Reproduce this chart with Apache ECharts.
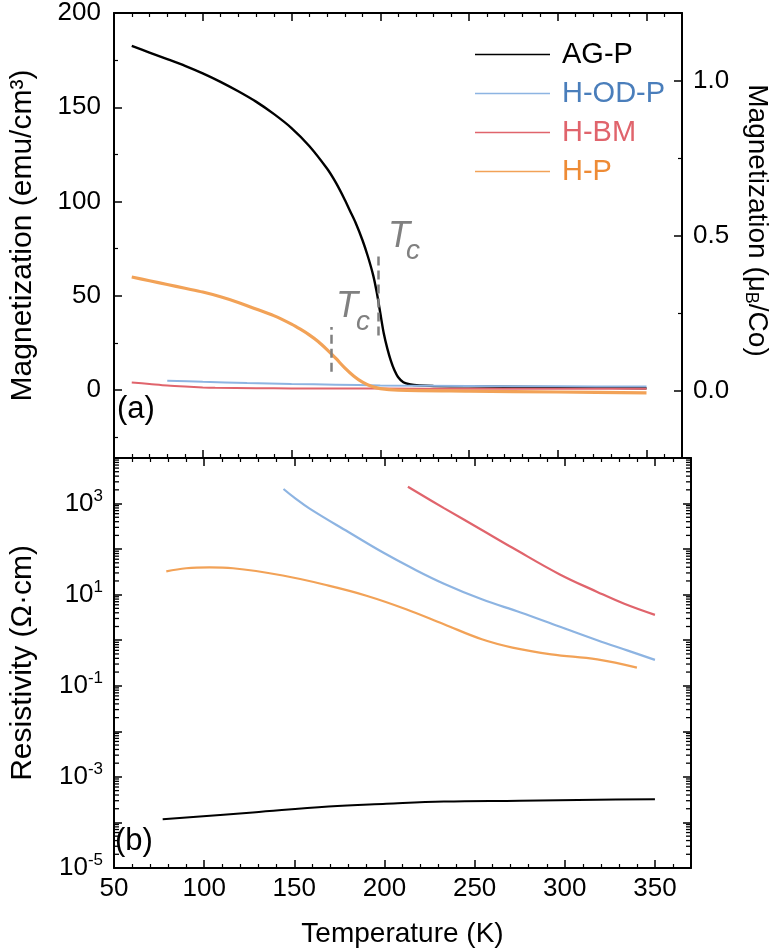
<!DOCTYPE html>
<html><head><meta charset="utf-8">
<script src="https://cdn.jsdelivr.net/npm/echarts@6/dist/echarts.min.js"></script>
<style>html,body{margin:0;padding:0;background:#fff}#c{width:779px;height:950px}</style>
</head><body><div id="c"></div>
<script>
const seriesNames = ['AG-P', 'H-OD-P', 'H-BM', 'H-P'];
const lineColors = ['#000000', '#8db4e2', '#e0646c', '#f2a257'];
const textColors = ['#000000', '#4a7ebb', '#e0646c', '#ee8b35'];

// Panel (a): magnetization (emu/cm3) vs temperature (K)
const magT_AGP = [60, 70, 80, 90, 100, 110, 120, 130, 140, 150, 160, 170, 175, 180, 183, 186, 190, 193, 196, 198, 200, 202, 204, 206, 208, 210, 213, 217, 222, 230, 250, 270, 300, 330, 350];
const mag_AGP  = [182.5, 179, 175.5, 172, 168, 163.5, 158.5, 153, 146.5, 139, 129.5, 117.5, 110, 101, 95, 89, 79.5, 71, 61, 52, 41, 30, 22, 15.5, 10.5, 7, 4.2, 3, 2.5, 2.2, 2, 1.8, 1.5, 1.2, 1];
const magT_HODP = [80, 100, 125, 150, 175, 200, 250, 300, 350];
const mag_HODP  = [5.0, 4.4, 3.8, 3.3, 2.9, 2.5, 2.2, 2.0, 1.9];
const magT_HBM = [60, 70, 80, 90, 100, 107, 130, 150, 200, 250, 300, 350];
const mag_HBM  = [4.1, 3.3, 2.5, 1.9, 1.4, 1.2, 1.0, 0.9, 0.8, 0.7, 0.7, 0.7];
const magT_HP = [60, 70, 80, 90, 100, 110, 120, 130, 140, 150, 155, 160, 165, 170, 175, 180, 185, 190, 195, 200, 210, 250, 300, 350];
const mag_HP  = [60, 58, 56, 54, 52, 49.5, 46.5, 43, 39.5, 35, 32.3, 29.3, 25.8, 21.5, 16.8, 11.8, 7.5, 4.2, 2, 0.8, 0, -0.5, -1, -1.5];

// Panel (b): resistivity (Ohm cm) vs temperature (K)
const resT_AGP = [77, 127, 169, 201, 233, 275, 318, 350];
const res_AGP  = [1.17e-4, 1.66e-4, 2.24e-4, 2.57e-4, 2.88e-4, 3.0e-4, 3.16e-4, 3.24e-4];
const resT_HODP = [144, 150, 158.5, 180, 199, 216, 233, 254, 275.5, 297, 318, 335, 350];
const res_HODP  = [2090, 1350, 776, 237, 85, 37, 17.4, 7.9, 4.07, 2.0, 1.0, 0.59, 0.37];
const resT_HBM = [213, 233, 254, 271, 297, 318, 333, 350];
const res_HBM  = [2340, 794, 263, 107, 28.2, 11.5, 6.3, 3.6];
const resT_HP = [79, 90, 103, 116, 143.6, 169, 190, 212, 233, 254, 271, 292.5, 318, 340];
const res_HP  = [32.4, 38, 39.8, 38, 26.3, 15.8, 9.5, 4.8, 2.24, 1.05, 0.69, 0.49, 0.38, 0.25];

// Tc markers (K) and dashed-line extents (emu/cm3)
const tcAGP = 199, tcAGPRange = [29, 73];
const tcHP = 172.5, tcHPRange = [9.7, 33.5];

const xTicks = [50, 100, 150, 200, 250, 300, 350];
const xMin = 50, xMax = 370;
const logMinExp = -5, logMaxExp = 4;

// log-axis minor tick values (2..9 x 10^n), axis decoration only
const logMinorVals = [];
for (let e = logMinExp; e < logMaxExp; e++) {
  for (let k = 2; k <= 9; k++) logMinorVals.push([xMin, k * Math.pow(10, e)]);
}

const zip = (a, b) => a.map((v, i) => [v, b[i]]);
const FONT = 'Liberation Sans, Arial, sans-serif';
const FS = 26;
const TFS = 30;

function xAx(grid, pos, labels) {
  return {
    type: 'value', gridIndex: grid, position: pos, min: xMin, max: xMax, interval: 50,
    axisLine: { show: true, onZero: false, lineStyle: { color: '#000', width: 2 } },
    axisTick: { show: true, inside: true, length: 8, lineStyle: { color: '#000', width: 1.5 } },
    minorTick: { show: true, splitNumber: 5, length: 4, lineStyle: { color: '#000', width: 1.2 } },
    axisLabel: { show: labels, color: '#000', fontSize: FS, fontFamily: FONT, margin: 8,
      formatter: v => (xTicks.indexOf(v) >= 0 ? String(v) : '') },
    splitLine: { show: false }
  };
}

const chart = echarts.init(document.getElementById('c'), null, { renderer: 'canvas' });

const logTick = {
  axisLine: { show: true, onZero: false, lineStyle: { color: '#000', width: 2 } },
  axisTick: { show: true, inside: true, length: 8, lineStyle: { color: '#000', width: 1.5 } },
  minorTick: { show: false },
  splitLine: { show: false }
};

const option = {
  backgroundColor: '#fff',
  animation: false,
  grid: [
    { left: 113, right: 88, top: 12, height: 446 },
    { left: 113, right: 88, top: 458, height: 410 }
  ],
  legend: {
    orient: 'vertical', left: 470, top: 35, itemWidth: 75, itemHeight: 14, itemGap: 10,
    icon: 'path://M0,0 L100,0 L100,2 L0,2 Z',
    data: seriesNames.map((n, i) => ({ name: n, itemStyle: { color: lineColors[i] },
      textStyle: { color: textColors[i], fontSize: 29, fontFamily: FONT, padding: [0, 0, 0, 7] } })),
    selectedMode: false
  },
  xAxis: [
    xAx(0, 'bottom', false),
    xAx(0, 'top', false),
    Object.assign(xAx(1, 'bottom', true), {
      name: 'Temperature (K)', nameLocation: 'middle', nameGap: 52,
      nameTextStyle: { color: '#000', fontSize: 28, fontFamily: FONT }
    }),
    xAx(1, 'top', false)
  ],
  yAxis: [
    {
      type: 'value', gridIndex: 0, position: 'left', min: -36, max: 200, splitNumber: 5,
      axisLine: { show: true, onZero: false, lineStyle: { color: '#000', width: 2 } },
      axisTick: { show: true, inside: true, length: 8, lineStyle: { color: '#000', width: 1.5 } },
      minorTick: { show: true, splitNumber: 2, length: 4, lineStyle: { color: '#000', width: 1.2 } },
      axisLabel: { color: '#000', fontSize: FS, fontFamily: FONT, margin: 13,
        formatter: v => (Math.abs(v % 50) < 1e-6 ? String(v) : '') },
      splitLine: { show: false },
      name: 'Magnetization (emu/cm³)', nameLocation: 'middle', nameGap: 76,
      nameTextStyle: { color: '#000', fontSize: TFS, fontFamily: FONT }
    },
    {
      type: 'value', gridIndex: 0, position: 'right', min: -0.2185, max: 1.219, splitNumber: 3,
      axisLine: { show: true, onZero: false, lineStyle: { color: '#000', width: 2 } },
      axisTick: { show: true, inside: true, length: 8, lineStyle: { color: '#000', width: 1.5 } },
      minorTick: { show: true, splitNumber: 2, length: 4, lineStyle: { color: '#000', width: 1.2 } },
      axisLabel: { color: '#000', fontSize: FS, fontFamily: FONT, margin: 11,
        formatter: v => (Math.abs(v / 0.5 - Math.round(v / 0.5)) < 1e-6 ? Math.abs(v).toFixed(1) : '') },
      splitLine: { show: false },
      name: 'Magnetization (μ{sub|B}/Co)', nameLocation: 'middle', nameGap: 60, nameRotate: -90,
      nameTextStyle: { color: '#000', fontSize: 28, fontFamily: FONT, padding: [0, 30, 0, 0],
        rich: { sub: { fontSize: 18, fontFamily: FONT, color: '#000', padding: [12, 0, 0, 0] } } }
    },
    Object.assign({
      type: 'log', logBase: 10, gridIndex: 1, position: 'left', min: Math.pow(10, logMinExp), max: Math.pow(10, logMaxExp),
      axisLabel: { color: '#000', fontSize: FS, fontFamily: FONT, margin: 11,
        formatter: v => { const e = Math.round(Math.log10(v)); return (Math.abs(e) % 2 === 1) ? '{b|10}{s|' + e + '}' : ''; },
        rich: { b: { fontSize: FS, fontFamily: FONT, color: '#000' },
                s: { fontSize: 17, fontFamily: FONT, color: '#000', padding: [0, 0, 15, 0] } } },
      name: 'Resistivity (Ω·cm)', nameLocation: 'middle', nameGap: 76,
      nameTextStyle: { color: '#000', fontSize: TFS, fontFamily: FONT }
    }, logTick),
    Object.assign({
      type: 'log', logBase: 10, gridIndex: 1, position: 'right', min: Math.pow(10, logMinExp), max: Math.pow(10, logMaxExp),
      axisLabel: { show: false }
    }, logTick)
  ],
  series: [
    { name: 'AG-P', type: 'line', xAxisIndex: 0, yAxisIndex: 0, data: zip(magT_AGP, mag_AGP),
      symbol: 'none', smooth: 0.3, lineStyle: { color: lineColors[0], width: 2.4 }, itemStyle: { color: lineColors[0] },
      markLine: { silent: true, symbol: 'none', label: { show: false },
        lineStyle: { color: '#808080', width: 2.5, type: [9, 5] },
        data: [[{ coord: [tcAGP, tcAGPRange[0]] }, { coord: [tcAGP, tcAGPRange[1]] }],
               [{ coord: [tcHP, tcHPRange[0]] }, { coord: [tcHP, tcHPRange[1]] }]] } },
    { name: 'H-OD-P', type: 'line', xAxisIndex: 0, yAxisIndex: 0, data: zip(magT_HODP, mag_HODP),
      symbol: 'none', smooth: 0.3, lineStyle: { color: lineColors[1], width: 2 }, itemStyle: { color: lineColors[1] } },
    { name: 'H-BM', type: 'line', xAxisIndex: 0, yAxisIndex: 0, data: zip(magT_HBM, mag_HBM),
      symbol: 'none', smooth: 0.3, lineStyle: { color: lineColors[2], width: 2 }, itemStyle: { color: lineColors[2] } },
    { name: 'H-P', type: 'line', xAxisIndex: 0, yAxisIndex: 0, data: zip(magT_HP, mag_HP),
      symbol: 'none', smooth: 0.3, lineStyle: { color: lineColors[3], width: 3.2 }, itemStyle: { color: lineColors[3] } },

    { name: 'AG-P', type: 'line', xAxisIndex: 2, yAxisIndex: 2, data: zip(resT_AGP, res_AGP),
      symbol: 'none', smooth: 0.4, lineStyle: { color: lineColors[0], width: 2 }, itemStyle: { color: lineColors[0] } },
    { name: 'H-OD-P', type: 'line', xAxisIndex: 2, yAxisIndex: 2, data: zip(resT_HODP, res_HODP),
      symbol: 'none', smooth: 0.4, lineStyle: { color: lineColors[1], width: 2.2 }, itemStyle: { color: lineColors[1] } },
    { name: 'H-BM', type: 'line', xAxisIndex: 2, yAxisIndex: 2, data: zip(resT_HBM, res_HBM),
      symbol: 'none', smooth: 0.4, lineStyle: { color: lineColors[2], width: 2.2 }, itemStyle: { color: lineColors[2] } },
    { name: 'H-P', type: 'line', xAxisIndex: 2, yAxisIndex: 2, data: zip(resT_HP, res_HP),
      symbol: 'none', smooth: 0.4, lineStyle: { color: lineColors[3], width: 2.2 }, itemStyle: { color: lineColors[3] } },

    // log minor ticks on left and right edges of panel (b)
    { type: 'custom', xAxisIndex: 2, yAxisIndex: 2, silent: true, clip: false, z: 5,
      data: logMinorVals, encode: { x: 0, y: 1 },
      renderItem: (params, api) => {
        const v = api.value(1);
        const pL = api.coord([xMin, v]);
        const pR = api.coord([xMax, v]);
        return { type: 'group', children: [
          { type: 'line', shape: { x1: pL[0], y1: pL[1], x2: pL[0] + 5, y2: pL[1] }, style: { stroke: '#000', lineWidth: 1.3 } },
          { type: 'line', shape: { x1: pR[0] - 5, y1: pR[1], x2: pR[0], y2: pR[1] }, style: { stroke: '#000', lineWidth: 1.3 } }
        ] };
      } }
  ],
  graphic: [
    { type: 'text', left: 117, top: 394, style: { text: '(a)', fontSize: 31, fontFamily: FONT, fill: '#000' } },
    { type: 'text', left: 115, top: 826, style: { text: '(b)', fontSize: 31, fontFamily: FONT, fill: '#000' } },
    { type: 'text', left: 388, top: 219, style: { text: 'T', fontSize: 36, fontStyle: 'italic', fontFamily: FONT, fill: '#808080' } },
    { type: 'text', left: 406, top: 237, style: { text: 'c', fontSize: 28, fontStyle: 'italic', fontFamily: FONT, fill: '#808080' } },
    { type: 'text', left: 336, top: 289, style: { text: 'T', fontSize: 36, fontStyle: 'italic', fontFamily: FONT, fill: '#808080' } },
    { type: 'text', left: 356, top: 308, style: { text: 'c', fontSize: 28, fontStyle: 'italic', fontFamily: FONT, fill: '#808080' } }
  ]
};
chart.setOption(option);
</script></body></html>
